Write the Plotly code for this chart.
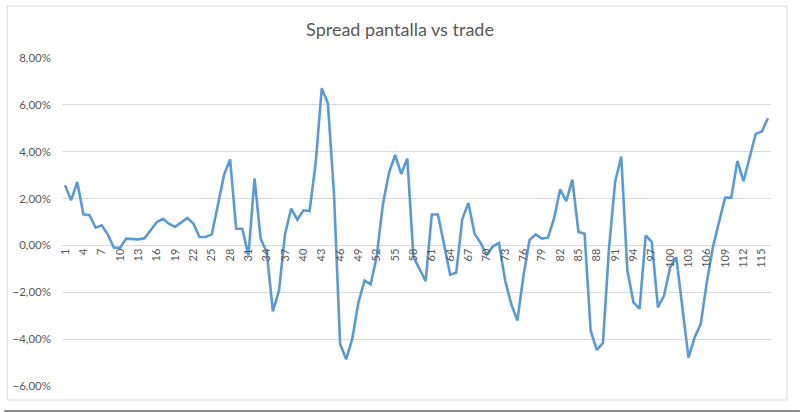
import plotly.graph_objects as go

# ---- data ----
categories = list(range(1, 117))
spread_pct = [2.57, 1.93, 2.71, 1.33, 1.29, 0.76, 0.86, 0.46, -0.10, -0.10,
              0.29, 0.26, 0.26, 0.30, 0.67, 0.99, 1.14, 0.93, 0.79, 0.97,
              1.17, 0.93, 0.36, 0.36, 0.47, 1.71, 3.00, 3.67, 0.71, 0.71,
              -0.43, 2.86, 0.29, -0.29, -2.81, -1.93, 0.50, 1.57, 1.10, 1.50,
              1.47, 3.50, 6.71, 6.07, 2.21, -4.21, -4.86, -3.97, -2.43, -1.50,
              -1.66, -0.45, 1.75, 3.10, 3.86, 3.05, 3.71, -0.50, -1.00, -1.52,
              1.32, 1.32, 0.06, -1.25, -1.17, 1.14, 1.81, 0.50, 0.10, -0.40,
              -0.04, 0.10, -1.50, -2.50, -3.21, -1.30, 0.24, 0.47, 0.29, 0.33,
              1.14, 2.39, 1.89, 2.81, 0.57, 0.50, -3.64, -4.46, -4.17, -0.10,
              2.71, 3.79, -1.07, -2.43, -2.71, 0.43, 0.14, -2.64, -2.14, -0.93,
              -0.50, -2.64, -4.79, -3.93, -3.36, -1.57, -0.07, 1.00, 2.04, 2.04,
              3.61, 2.74, 3.79, 4.76, 4.86, 5.43]
x_tick_vals = list(range(1, 117, 3))
x_tick_text = [str(v) for v in x_tick_vals]
y_tick_vals = [-0.06, -0.04, -0.02, 0.0, 0.02, 0.04, 0.06, 0.08]

values = [v / 100 for v in spread_pct]

# ---- layout geometry ----
W, H = 800, 412
ML, MR, MT, MB = 58, 29, 58, 26
PW, PH = W - ML - MR, H - MT - MB

def px_x(p):
    return (p - ML) / PW

def px_y(p):
    return (H - MB - p) / PH

font_family = "Lato, 'Open Sans', sans-serif"
grey = "#595959"

fig = go.Figure()
fig.add_trace(go.Scatter(
    x=categories, y=values, mode="lines",
    line=dict(color="#5B9BD5", width=2.6),
    hoverinfo="skip", showlegend=False,
))

ymin, ymax = -0.06, 0.08
fig.update_layout(
    width=W, height=H,
    margin=dict(l=ML, r=MR, t=MT, b=MB),
    paper_bgcolor="white", plot_bgcolor="white",
    separators=",.",
    title=dict(text="Spread pantalla vs trade", x=0.5, xanchor="center",
               y=1 - 30 / H, yanchor="middle",
               font=dict(family=font_family, size=18, color=grey)),
    xaxis=dict(
        range=[0.5, 116.5], tickmode="array", tickvals=x_tick_vals,
        ticktext=x_tick_text, tickangle=-90, showgrid=False, zeroline=False,
        showline=False, ticks="", anchor="free",
        position=(0 - ymin) / (ymax - ymin),
        tickfont=dict(family=font_family, size=11, color=grey),
    ),
    yaxis=dict(
        range=[ymin, ymax], tickmode="array", tickvals=y_tick_vals,
        tickformat=".2%", showgrid=True, gridcolor="#D9D9D9", gridwidth=1,
        zeroline=False, showline=False, ticks="", ticklabelstandoff=10,
        tickfont=dict(family=font_family, size=11.5, color=grey),
    ),
    shapes=[
        dict(type="rect", xref="paper", yref="paper",
             x0=px_x(3), x1=px_x(787), y0=px_y(400), y1=px_y(6),
             line=dict(color="#D9D9D9", width=1), layer="below"),
        dict(type="line", xref="paper", yref="paper",
             x0=px_x(0), x1=px_x(800), y0=px_y(411), y1=px_y(411),
             line=dict(color="#8C8C8C", width=2)),
    ],
)

fig.write_html("out.html", config={"displayModeBar": False},
               post_script="document.body.style.margin='0';"
                           "document.body.style.overflow='hidden';")
